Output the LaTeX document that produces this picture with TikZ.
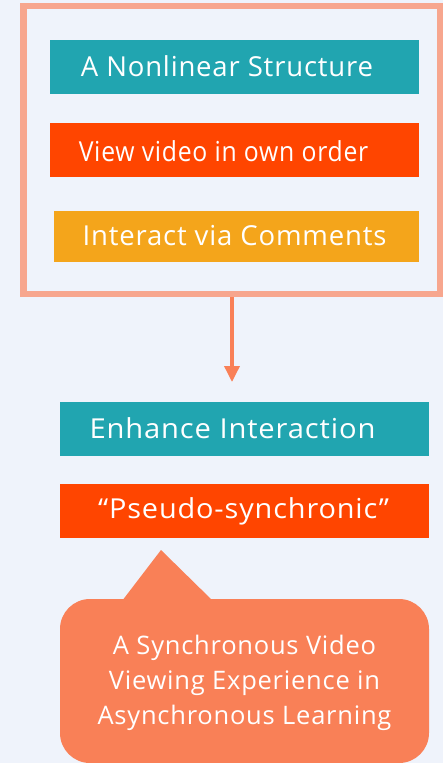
\documentclass[tikz,border=0pt]{standalone}
\usepackage{fontspec}
\setmainfont[LetterSpace=3]{Open Sans}
\usetikzlibrary{arrows.meta}
\definecolor{bg}{RGB}{239,243,251}
\definecolor{framec}{RGB}{247,166,142}
\definecolor{teal}{RGB}{33,165,176}
\definecolor{redor}{RGB}{255,69,0}
\definecolor{amber}{RGB}{244,165,27}
\definecolor{coral}{RGB}{249,128,87}
\tikzset{
  box/.style={minimum width=369pt,minimum height=54pt,inner sep=0pt},
  lbl/.style={text=white,inner sep=0pt,font=\fontsize{27.5}{32}\selectfont},
}
\begin{document}
\begin{tikzpicture}[x=1pt,y=-1pt]
\fill[bg] (0,0) rectangle (443,763);
\useasboundingbox (0,0) rectangle (443,763);
% frame
\node[draw=framec,line width=6.5pt,minimum width=416.5pt,minimum height=288pt,inner sep=0pt] (frame) at (231.75,150) {};
% top boxes
\node[box,fill=teal] (b1) at (234.5,67) {};
\node[lbl] (t1) at (227,66) {A Nonlinear Structure};
\node[box,fill=redor] (b2) at (234.5,150) {};
\node[lbl] (t2) at (223.5,151) {\scalebox{0.9}[1]{View video in own order}};
\node[box,fill=amber,minimum width=365pt,minimum height=51pt] (b3) at (236.5,236.5) {};
\node[lbl] (t3) at (234.5,236) {Interact via Comments};
% arrow
\coordinate (aend) at (232,382);
\draw[coral,line width=3.5pt,-{Triangle[width=15pt,length=16pt]}] (frame.south -| aend) -- (aend);
% lower boxes
\node[box,fill=teal] (b4) at (244.5,429) {};
\node[lbl] (t4) at (232.5,428) {\scalebox{1.06}[1]{Enhance Interaction}};
\node[box,fill=redor] (b5) at (244.5,511) {};
\node[lbl] (t5) at (243.5,511) {\scalebox{1.05}[1]{“Pseudo-synchronic”}};
% callout
\fill[coral] (122,601) -- (161,550) -- (213,601) -- cycle;
\node[fill=coral,rounded corners=30pt,minimum width=369pt,minimum height=164pt,inner sep=0pt] (callout) at (244.5,681) {};
\node[text=white,align=center,font=\fontsize{25.5}{35}\selectfont] (ctext) at (244.5,683) {A Synchronous Video\\Viewing Experience in\\Asynchronous Learning};
\end{tikzpicture}
\end{document}
